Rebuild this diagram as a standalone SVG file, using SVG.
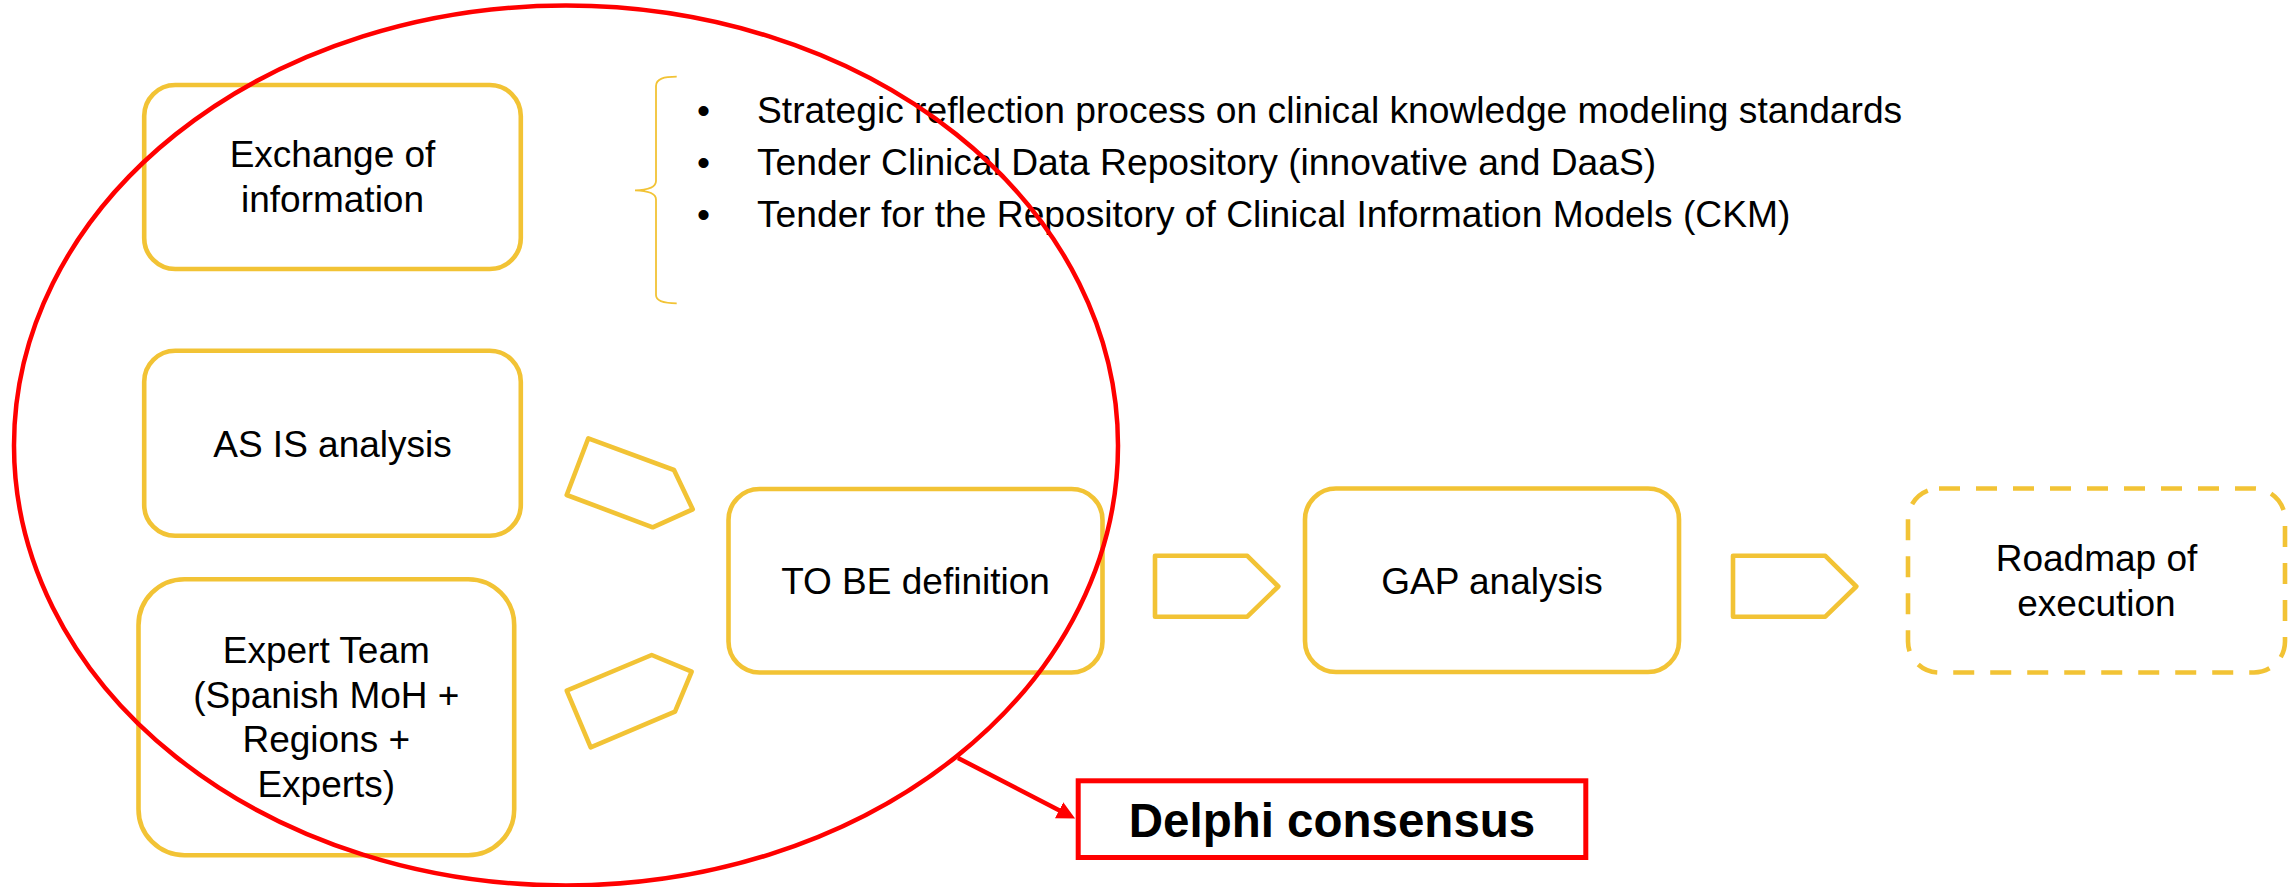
<svg xmlns="http://www.w3.org/2000/svg" width="2295" height="887" viewBox="0 0 2295 887">
  <style>
    .box { fill: #FFFFFF; stroke: #F2C335; stroke-width: 4.6; }
    .dashed { stroke-dasharray: 21 16; }
    .shape { fill: none; stroke: #F2C335; stroke-width: 4.6; stroke-linejoin: round; }
    .brace { fill: none; stroke: #F2C335; stroke-width: 1.8; }
    .txt { font-family: "Liberation Sans", Arial, sans-serif; font-size: 37px; fill: #000000; text-anchor: middle; }
    .bullet { font-family: "Liberation Sans", Arial, sans-serif; font-size: 37.2px; fill: #000000; }
    .red { fill: none; stroke: #FF0000; }
    .bold { font-family: "Liberation Sans", Arial, sans-serif; font-size: 47.5px; font-weight: bold; fill: #000000; text-anchor: middle; }
  </style>
  <defs>
    <marker id="redArrow" viewBox="0 0 18 18" refX="1" refY="9" markerWidth="18" markerHeight="18" markerUnits="userSpaceOnUse" orient="auto">
      <path d="M0,0 L18,9 L0,18 z" fill="#FF0000"/>
    </marker>
  </defs>
  <rect x="0" y="0" width="2295" height="887" fill="#FFFFFF"/>

  <g id="exchange">
    <rect class="box" x="144.2" y="85" width="376.6" height="184" rx="31" ry="31"/>
    <text class="txt" x="332.5" y="166.5">Exchange of</text>
    <text class="txt" x="332.5" y="211.5">information</text>
  </g>

  <g id="tender-list">
    <path class="brace" d="M676.7,76.7 C664,76.7 656,78.5 656,86 L656,181 C656,187.5 648,190 635,190.3 C648,190.6 656,193 656,199.5 L656,295 C656,301.5 664,303.3 676.7,303.3"/>
    <text class="bullet" x="697" y="123">•</text>
    <text class="bullet" x="757" y="123">Strategic reflection process on clinical knowledge modeling standards</text>
    <text class="bullet" x="697" y="175">•</text>
    <text class="bullet" x="757" y="175">Tender Clinical Data Repository (innovative and DaaS)</text>
    <text class="bullet" x="697" y="227">•</text>
    <text class="bullet" x="757" y="227">Tender for the Repository of Clinical Information Models (CKM)</text>
  </g>

  <g id="as-is">
    <rect class="box" x="144.2" y="350.8" width="376.6" height="185" rx="31" ry="31"/>
    <text class="txt" x="332.5" y="456.5">AS IS analysis</text>
  </g>

  <g id="expert-team">
    <rect class="box" x="138.5" y="579.2" width="375.7" height="276" rx="46" ry="46"/>
    <text class="txt" x="326.3" y="663">Expert Team</text>
    <text class="txt" x="326.3" y="707.7">(Spanish MoH +</text>
    <text class="txt" x="326.3" y="752.4">Regions +</text>
    <text class="txt" x="326.3" y="797">Experts)</text>
  </g>

  <g id="to-be">
    <rect class="box" x="728.5" y="489" width="374" height="183.5" rx="31" ry="31"/>
    <text class="txt" x="915.5" y="594">TO BE definition</text>
  </g>

  <g id="gap">
    <rect class="box" x="1305" y="488.5" width="374" height="183.5" rx="31" ry="31"/>
    <text class="txt" x="1492" y="594">GAP analysis</text>
  </g>

  <g id="roadmap">
    <rect class="box dashed" x="1908" y="488.5" width="377" height="184" rx="31" ry="31"/>
    <text class="txt" x="2096.5" y="571">Roadmap of</text>
    <text class="txt" x="2096.5" y="616">execution</text>
  </g>

  <g id="delphi">
    <rect x="1078.2" y="780.8" width="507.6" height="76.7" fill="#FFFFFF" stroke="#FF0000" stroke-width="5"/>
    <text class="bold" x="1332" y="837">Delphi consensus</text>
  </g>

  <g id="connectors">
    <polygon class="shape" points="588.3,438.3 674,470 692.7,509.3 652.7,527.3 566.7,495"/>
    <polygon class="shape" points="566.7,690.7 651.7,655 691.7,671.7 675,711.7 590.7,747.3"/>
    <polygon class="shape" points="1155,555.8 1247.3,555.8 1278.3,586.5 1247.3,616.7 1155,616.7"/>
    <polygon class="shape" points="1733,555.8 1825.3,555.8 1856.3,586.5 1825.3,616.7 1733,616.7"/>
    <line class="red" x1="958" y1="758" x2="1060" y2="810.7" stroke-width="4.5" marker-end="url(#redArrow)"/>
  </g>

  <g id="focus-ellipse">
    <ellipse class="red" cx="566" cy="445.5" rx="552" ry="440" stroke-width="4.5"/>
  </g>
</svg>
